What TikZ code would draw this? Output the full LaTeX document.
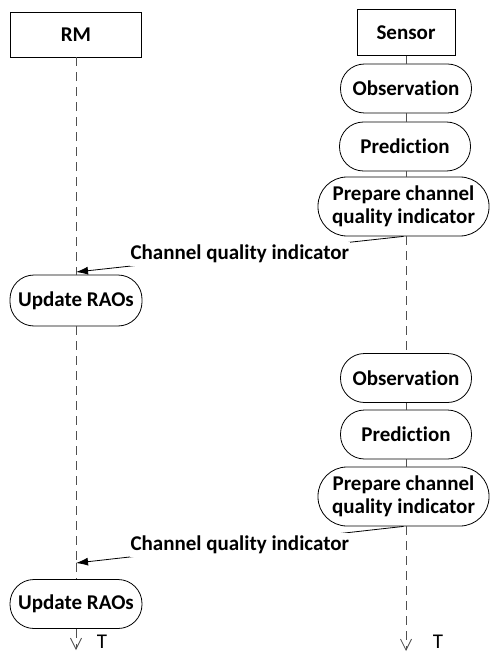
\documentclass[tikz,border=0pt]{standalone}
\usepackage{fontspec}
\setmainfont{Carlito}[Ligatures=CommonOff]
\usetikzlibrary{arrows.meta,calc}
\definecolor{lifegray}{HTML}{505050}
\begin{document}
\begin{tikzpicture}[x=1pt,y=-1pt,
  every node/.style={font=\fontsize{21}{23.5}\selectfont\bfseries, inner sep=0pt, align=center},
  actor/.style={draw=black, line width=0.8pt, fill=white, minimum height=45pt},
  stadium/.style={draw=black, line width=0.8pt, fill=white, rounded corners=24pt, minimum width=131pt, minimum height=48pt},
  bigstadium/.style={stadium, rounded corners=29pt, minimum width=171pt, minimum height=59pt},
  life/.style={draw=lifegray, line width=0.8pt, dash pattern=on 9pt off 6pt},
  lifeend/.style={life, -{Straight Barb[length=11pt,width=11pt,line width=0.8pt]}},
  msg/.style={draw=black, line width=0.8pt, -{Latex[length=12pt,width=8pt]}},
  msglabel/.style={fill=white, inner xsep=1pt, inner ysep=3pt},
  tlabel/.style={font=\fontsize{21}{21}\selectfont, align=left, text height=13.5pt, text depth=0pt, anchor=base}
]
\useasboundingbox (0,0) rectangle (490,652);

% nodes
\node[actor, minimum width=131pt] (rm) at (76,34.5) {RM};
\node[actor, minimum width=98pt, minimum height=46pt] (sensor) at (406,32.5) {Sensor};

\node[stadium, minimum height=49pt] (obs1) at (406,88.5) {Observation};
\node[stadium, minimum height=49pt] (pred1) at (405,146.5) {Prediction};
\node[bigstadium] (prep1) at (403.5,206.5) {Prepare channel\\quality indicator};
\node[stadium, minimum width=132pt, minimum height=51pt] (upd1) at (76,300.5) {Update RAOs};

\node[stadium, minimum height=49pt] (obs2) at (406,378) {Observation};
\node[stadium, minimum height=49pt] (pred2) at (406,434.5) {Prediction};
\node[bigstadium] (prep2) at (403.5,496.5) {Prepare channel\\quality indicator};
\node[stadium, minimum width=132pt, minimum height=49pt] (upd2) at (76,604) {Update RAOs};

\coordinate (tip1) at (76,272);
\coordinate (tip2) at (76,563);
\coordinate (rmend) at (76,650);
\coordinate (senend) at (406,651);

% lifelines
\path[life] (rm.south) -- (tip1);
\path[life] (tip1) -- (upd1.north);
\path[life] (upd1.south) -- (tip2);
\path[life] (tip2) -- (upd2.north);
\path[lifeend] (upd2.south) -- (rmend);

\path[life] (sensor.south) -- (sensor.south |- obs1.north);
\path[life] (sensor.south |- obs1.south) -- (sensor.south |- pred1.north);
\path[life] (sensor.south |- pred1.south) -- (sensor.south |- prep1.north);
\path[life] (sensor.south |- prep1.south) -- (sensor.south |- obs2.north);
\path[life] (sensor.south |- obs2.south) -- (sensor.south |- pred2.north);
\path[life] (sensor.south |- pred2.south) -- (sensor.south |- prep2.north);
\path[lifeend] (sensor.south |- prep2.south) -- (senend);

% messages
\draw[msg] (prep1.south) -- node[msglabel] (lab1) {Channel quality indicator} (tip1);
\draw[msg] (prep2.south) -- node[msglabel] (lab2) {Channel quality indicator} (tip2);

% time labels
\node[tlabel] (t1) at (102,648) {T};
\node[tlabel] (t2) at (438,648) {T};
\end{tikzpicture}
\end{document}
